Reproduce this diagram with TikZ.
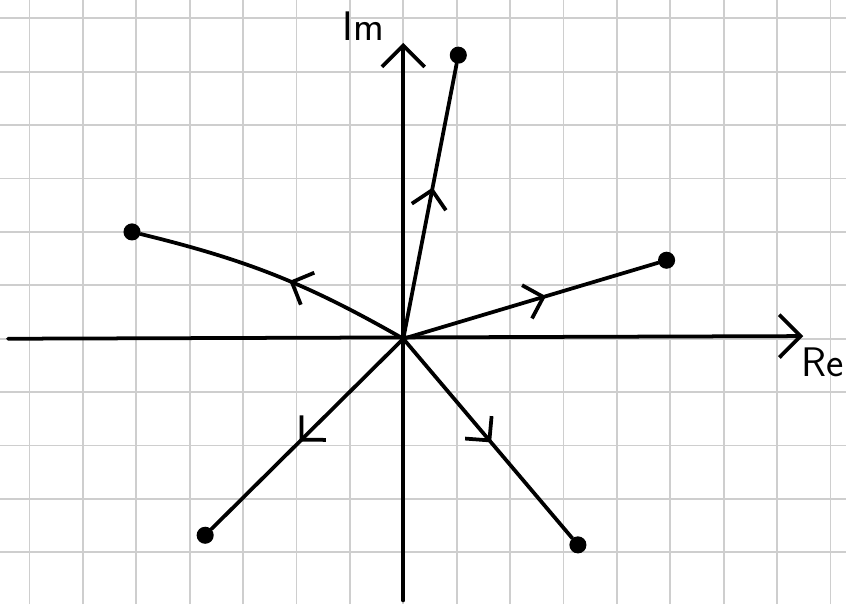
\documentclass[tikz,border=0pt]{standalone}
\usepackage{tikz}
\usetikzlibrary{arrows.meta, decorations.markings}
\definecolor{gridgray}{RGB}{206,206,206}

\begin{document}
\begin{tikzpicture}[
    gridline/.style={draw=gridgray, line width=1pt},
    axis/.style={line width=2pt, line cap=round, -{Straight Barb[length=4mm, width=8mm, line width=2pt]}},
    pole/.style={circle, fill=black, inner sep=0pt, minimum size=3.2mm},
    locus/.style={line width=2pt, line cap=round, postaction={decorate},
        decoration={markings, mark=at position #1 with {\arrow{Straight Barb[length=3.2mm, width=6.5mm, line width=2pt]}}}},
    axlabel/.style={font=\fontsize{22}{22}\selectfont\sffamily, inner sep=0pt}
]
\useasboundingbox (-7.552,-4.968) rectangle (8.290,6.343);

% Grid paper
\draw[gridline, step=1cm] (-7.552,-4.968) grid (8.290,6.343);

% Axes
\coordinate (O) at (0,0);
\coordinate (reStart) at (-7.4,0);
\coordinate (reEnd) at (7.49,0.05);
\coordinate (imStart) at (0,-4.9);
\coordinate (imEnd) at (0,5.54);
\draw[axis] (reStart) -- (reEnd);
\draw[axis] (imStart) -- (imEnd);
\node[axlabel] (im) at (-0.75,5.86) {Im};
\node[axlabel, anchor=west] (re) at (7.45,-0.45) {Re};

% End points of the branches
\node[pole] (pA) at (1.03,5.31) {};
\node[pole] (pB) at (-5.08,2.0) {};
\node[pole] (pC) at (4.93,1.47) {};
\node[pole] (pD) at (-3.71,-3.68) {};
\node[pole] (pE) at (3.27,-3.86) {};

% Branches leaving the origin
\draw[locus=0.55] (O) -- (pA);
\draw[locus=0.45] (O) to[bend right=8] (pB);
\draw[locus=0.56] (O) -- (pC);
\draw[locus=0.54] (O) -- (pD);
\draw[locus=0.52] (O) -- (pE);

\end{tikzpicture}
\end{document}
